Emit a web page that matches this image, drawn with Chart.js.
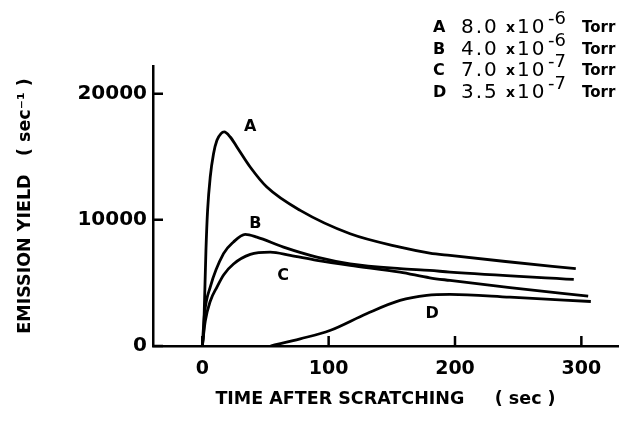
<!DOCTYPE html>
<html>
<head>
<meta charset="utf-8">
<script src="https://cdn.jsdelivr.net/npm/chart.js@4.4.1/dist/chart.umd.min.js"></script>
<style>
  html, body { margin: 0; padding: 0; background: #fff; }
  canvas { display: block; }
</style>
</head>
<body>
<canvas id="chart" width="623" height="435"></canvas>
<script>
  // values (time in sec, yield in sec^-1)
  const timeA = [0, 1, 1.8, 2.9, 4.2, 6.3, 8.9, 11.6, 14.8, 17.4, 22.1, 27.4, 37.9, 51.1, 77.5, 117, 156.5, 180, 196, 240, 295.6];
  const yieldA = [0, 970, 3610, 7580, 10750, 13400, 15250, 16310, 16840, 16970, 16570, 15780, 14190, 12600, 10750, 8900, 7840, 7370, 7180, 6700, 6130];

  const timeB = [0, 1.8, 6.3, 16.8, 24.7, 34, 43.2, 64.3, 90.7, 117, 156.5, 180, 196, 294];
  const yieldB = [0, 2580, 4670, 7320, 8250, 8850, 8630, 7840, 7050, 6520, 6130, 5990, 5860, 5280];

  const timeC = [0, 2.4, 6.3, 11.6, 17, 24.7, 38, 53.8, 69.6, 90.7, 117, 156.5, 180, 196, 243.5, 305.4];
  const yieldC = [0, 2000, 3550, 4670, 5650, 6500, 7260, 7440, 7180, 6790, 6390, 5860, 5410, 5200, 4620, 3950];

  const timeD = [54, 77.5, 101, 130, 156.5, 177.6, 196, 243.5, 307.5];
  const yieldD = [0, 570, 1230, 2560, 3610, 4010, 4090, 3870, 3530];

  const curveNames = ['A', 'B', 'C', 'D'];
  const pressures = ['8.0', '4.0', '7.0', '3.5'];
  const exponents = ['-6', '-6', '-7', '-7'];
  // where each curve letter sits, in data units
  const labelTimes = [38, 42, 64, 182];
  const labelYields = [17360, 9720, 5600, 2580];

  const xTicks = [0, 100, 200, 300];
  const yTicks = [0, 10000, 20000];

  const toPoints = (xs, ys) => xs.map((x, i) => ({ x: x, y: ys[i] }));
  const series = [toPoints(timeA, yieldA), toPoints(timeB, yieldB), toPoints(timeC, yieldC), toPoints(timeD, yieldD)];

  const inwardTicks = {
    id: 'inwardTicks',
    afterDraw(chart) {
      const ctx = chart.ctx;
      const x = chart.scales.x;
      const y = chart.scales.y;
      const area = chart.chartArea;
      ctx.save();
      ctx.strokeStyle = '#000';
      ctx.lineWidth = 2.5;
      ctx.beginPath();
      xTicks.forEach((v) => {
        const px = x.getPixelForValue(v);
        ctx.moveTo(px, area.bottom);
        ctx.lineTo(px, area.bottom - 10);
      });
      yTicks.forEach((v) => {
        const py = y.getPixelForValue(v);
        ctx.moveTo(area.left, py);
        ctx.lineTo(area.left + 10, py);
      });
      ctx.stroke();
      ctx.restore();
    }
  };

  const curveLabels = {
    id: 'curveLabels',
    afterDatasetsDraw(chart) {
      const ctx = chart.ctx;
      ctx.save();
      ctx.fillStyle = '#000';
      ctx.font = 'bold 16px "DejaVu Sans"';
      ctx.textAlign = 'center';
      ctx.textBaseline = 'middle';
      curveNames.forEach((name, i) => {
        ctx.fillText(name, chart.scales.x.getPixelForValue(labelTimes[i]), chart.scales.y.getPixelForValue(labelYields[i]));
      });
      ctx.restore();
    }
  };

  const pressureKey = {
    id: 'pressureKey',
    afterDraw(chart) {
      const ctx = chart.ctx;
      ctx.save();
      ctx.fillStyle = '#000';
      ctx.textAlign = 'left';
      ctx.textBaseline = 'alphabetic';
      curveNames.forEach((name, i) => {
        const base = 32 + i * 21.7;
        ctx.font = 'bold 16px "DejaVu Sans"';
        ctx.fillText(name, 433, base);
        ctx.font = '20px "DejaVu Sans"';
        ctx.letterSpacing = '2px';
        ctx.fillText(pressures[i], 461, base + 1);
        ctx.fillText('10', 517, base + 1);
        ctx.letterSpacing = '0px';
        ctx.font = 'bold 14px "DejaVu Sans"';
        ctx.fillText('x', 506, base);
        ctx.font = 'bold 15px "DejaVu Sans"';
        ctx.fillText('Torr', 582, base);
        ctx.font = '18px "DejaVu Sans"';
        ctx.fillText(exponents[i], 548, base - 8);
      });
      ctx.restore();
    }
  };

  new Chart(document.getElementById('chart'), {
    type: 'line',
    data: {
      datasets: series.map((points, i) => ({
        label: curveNames[i],
        data: points,
        borderColor: '#000',
        borderWidth: 2.8,
        pointRadius: 0,
        fill: false,
        cubicInterpolationMode: 'monotone'
      }))
    },
    options: {
      responsive: false,
      animation: false,
      layout: { padding: { top: 66, right: 5, left: 0, bottom: 0 } },
      plugins: { legend: { display: false }, tooltip: { enabled: false } },
      scales: {
        x: {
          type: 'linear',
          min: -39,
          max: 329,
          afterFit: (scale) => { scale.height = 89; },
          afterBuildTicks: (scale) => { scale.ticks = xTicks.map((v) => ({ value: v })); },
          grid: { display: false, drawTicks: false },
          border: { display: true, color: '#000', width: 2.5 },
          ticks: { color: '#000', padding: 12, font: { family: 'DejaVu Sans', size: 19, weight: 'bold' }, callback: (v) => String(v) },
          title: {
            display: true,
            text: 'TIME AFTER SCRATCHING     ( sec )',
            color: '#000',
            font: { family: 'DejaVu Sans', size: 17.5, weight: 'bold' },
            padding: { top: 0, bottom: 25 }
          }
        },
        y: {
          type: 'linear',
          min: 0,
          max: 22200,
          afterFit: (scale) => { scale.width = 153; },
          afterBuildTicks: (scale) => { scale.ticks = yTicks.map((v) => ({ value: v })); },
          grid: { display: false, drawTicks: false },
          border: { display: true, color: '#000', width: 2.5 },
          ticks: { color: '#000', padding: 6, font: { family: 'DejaVu Sans', size: 20, weight: 'bold' }, callback: (v) => String(v) },
          title: {
            display: true,
            text: 'EMISSION YIELD   ( sec\u207B\u00B9 )',
            color: '#000',
            font: { family: 'DejaVu Sans', size: 17.5, weight: 'bold' },
            padding: { top: 15, bottom: 0 }
          }
        }
      }
    },
    plugins: [inwardTicks, curveLabels, pressureKey]
  });
</script>
</body>
</html>
